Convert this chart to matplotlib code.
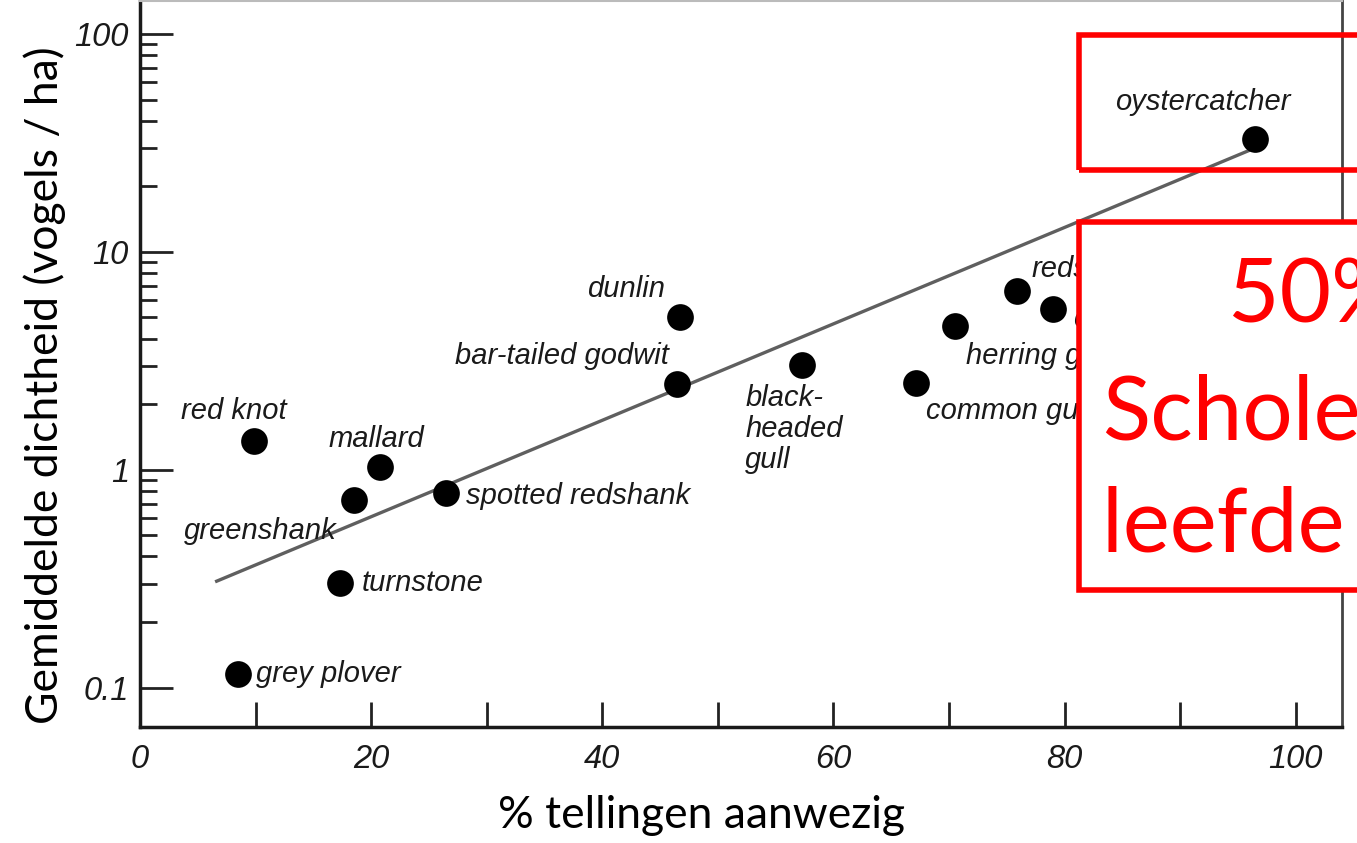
import matplotlib
matplotlib.use("Agg")
import matplotlib.pyplot as plt
from matplotlib.ticker import FixedLocator, NullFormatter, FixedFormatter
from matplotlib.patches import Rectangle

# ---- data ----
species = ["grey plover", "red knot", "turnstone", "greenshank", "mallard",
           "spotted redshank", "dunlin", "bar-tailed godwit", "black-\nheaded\ngull",
           "common gull", "herring gull", "redshank", "curlew", "oystercatcher"]
pct_present = [8.5, 9.9, 17.3, 18.5, 20.8, 26.5, 46.7, 46.5, 57.3, 67.1, 70.5, 75.9, 79.0, 96.5]
density = [0.116, 1.36, 0.303, 0.73, 1.03, 0.78, 5.03, 2.48, 3.03, 2.51, 4.58, 6.62, 5.48, 33.0]
fit_x = [6.5, 96.5]
fit_y = [0.306, 30.0]
x_ticks = [0, 10, 20, 30, 40, 50, 60, 70, 80, 90, 100]
x_tick_labels = ["0", "", "20", "", "40", "", "60", "", "80", "", "100"]
y_ticks = [0.1, 1, 10, 100]
y_tick_labels = ["0.1", "1", "10", "100"]

# label placement (offset pixels from point, ha, va)
label_style = {
    "grey plover": (18, 0, "left", "center"),
    "red knot": (-21, 30, "center", "center"),
    "turnstone": (22, 0, "left", "center"),
    "greenshank": (-17, -31, "right", "center"),
    "mallard": (-4, 28, "center", "center"),
    "spotted redshank": (20, -3, "left", "center"),
    "dunlin": (-15, 28, "right", "center"),
    "bar-tailed godwit": (-9, 28, "right", "center"),
    "black-\nheaded\ngull": (-57, -19, "left", "top"),
    "common gull": (10, -28, "left", "center"),
    "herring gull": (11, -30, "left", "center"),
    "redshank": (14, 22, "left", "center"),
    "curlew": (20, -10, "left", "center"),
    "oystercatcher": (-53, 37, "center", "center"),
}

W, H = 1357, 843
fig = plt.figure(figsize=(W / 100, H / 100), dpi=100)
fig.patch.set_facecolor("white")
ax = fig.add_axes([140 / W, 1 - 727 / H, (1342 - 140) / W, (727 - 1) / H])

ax.set_yscale("log")
ax.set_xlim(0, 104)
ax.set_ylim(0.066, 141.6)

ax.plot(fit_x, fit_y, color="#5f5f5f", lw=2.4, solid_capstyle="butt", zorder=2)
ax.scatter(pct_present, density, s=370, color="black", zorder=3, linewidths=0)

lab_font = dict(family="Liberation Sans", style="italic", fontsize=21, color="#1a1a1a")
for name, x, y in zip(species, pct_present, density):
    dx, dy, ha, va = label_style[name]
    ax.annotate(name, (x, y), xytext=(dx, dy), textcoords="offset pixels",
                ha=ha, va=va, linespacing=1.15, zorder=4, **lab_font)

# ticks
ax.xaxis.set_major_locator(FixedLocator(x_ticks))
ax.xaxis.set_major_formatter(FixedFormatter(x_tick_labels))
ax.xaxis.set_minor_locator(FixedLocator([]))
ax.yaxis.set_major_locator(FixedLocator(y_ticks))
ax.yaxis.set_major_formatter(FixedFormatter(y_tick_labels))
minor = [m * d for d in (0.1, 1, 10) for m in range(2, 10)]
ax.yaxis.set_minor_locator(FixedLocator(minor))
ax.yaxis.set_minor_formatter(NullFormatter())

ax.tick_params(axis="x", which="major", direction="in", length=18, width=2, pad=12,
               color="#222222", top=False)
ax.tick_params(axis="y", which="major", direction="in", length=24, width=2, pad=8,
               color="#222222", right=False)
ax.tick_params(axis="y", which="minor", direction="in", length=12, width=2,
               color="#222222", right=False)
for lab in ax.get_xticklabels() + ax.get_yticklabels():
    lab.set_fontfamily("Liberation Sans")
    lab.set_fontstyle("italic")
    lab.set_fontsize(23.5)
    lab.set_color("#1a1a1a")

ax.spines["left"].set_linewidth(2.5)
ax.spines["bottom"].set_linewidth(2.5)
ax.spines["left"].set_color("#1a1a1a")
ax.spines["bottom"].set_color("#1a1a1a")
ax.spines["right"].set_linewidth(2)
ax.spines["right"].set_color("#444444")
ax.spines["top"].set_linewidth(1.5)
ax.spines["top"].set_color("#bbbbbb")

ax.set_xlabel("% tellingen aanwezig", fontfamily="Lato", fontsize=32, color="black")
ax.xaxis.set_label_coords((702 - 140) / (1342 - 140), -(815 - 727) / 726, transform=ax.transAxes)
ax.xaxis.label.set_va("center")
ax.set_ylabel("Gemiddelde dichtheid (vogels / ha)", fontfamily="Lato", fontsize=32, color="black")
ax.yaxis.set_label_coords(-(140 - 45) / (1342 - 140), (727 - 385) / 726, transform=ax.transAxes)
ax.yaxis.label.set_va("center")

# red overlay boxes (annotation layer)
lw = 4.0
box1 = Rectangle((1079 / W, 1 - 170 / H), 0.5, (170 - 35) / H, transform=fig.transFigure,
                 fill=False, edgecolor="#ff0000", linewidth=lw, zorder=10)
box2 = Rectangle((1079 / W, 1 - 590 / H), 0.5, (590 - 222) / H, transform=fig.transFigure,
                 facecolor="white", edgecolor="#ff0000", linewidth=lw, zorder=10)
fig.add_artist(box1)
fig.add_artist(box2)
red_font = dict(family="Lato", fontsize=64, color="#ff0000", zorder=11, va="baseline", ha="left")
fig.text(1228 / W, 1 - 322 / H, "50% van de", **red_font)
fig.text(1102 / W, 1 - 440 / H, "Scholeksters", **red_font)
fig.text(1102 / W, 1 - 552 / H, "leefde er", **red_font)

fig.savefig("out.png", dpi=100)
